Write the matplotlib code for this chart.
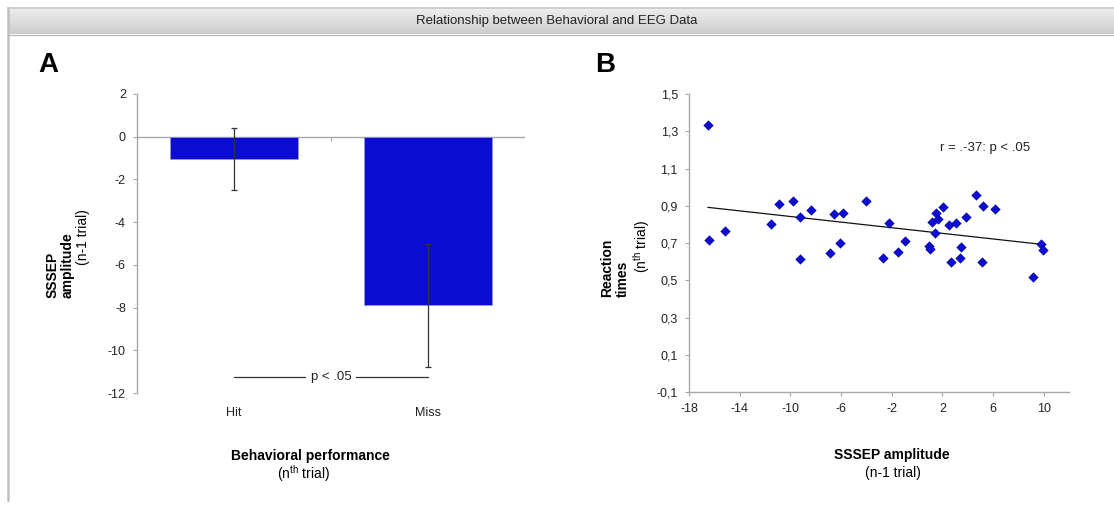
import numpy as np
import matplotlib
matplotlib.use('Agg')
import matplotlib.pyplot as plt
from matplotlib.lines import Line2D

plt.rcParams['font.family'] = ['Liberation Sans', 'DejaVu Sans']
plt.rcParams['mathtext.fontset'] = 'custom'
plt.rcParams['mathtext.rm'] = 'Liberation Sans'
plt.rcParams['axes.unicode_minus'] = False

# panel A data
conditions = ['Hit', 'Miss']
amp_means = [-1.05, -7.9]
amp_err = [1.46, 2.9]
p_level = -11.25

# panel B data
sssep_amp = [-16.50, -16.42, -15.13, -11.53, -10.88, -9.80, -9.22, -9.27, -8.33,
             -6.85, -6.54, -6.09, -5.83, -4.01, -2.65, -2.23, -1.49, -0.91,
             0.93, 1.01, 1.16, 1.45, 1.53, 1.69, 2.08, 2.50, 2.72, 3.11, 3.42,
             3.45, 3.90, 4.69, 5.19, 5.13, 6.16, 9.16, 9.76, 9.94]
rt = [1.334, 0.715, 0.767, 0.802, 0.910, 0.928, 0.842, 0.613, 0.877,
      0.648, 0.856, 0.702, 0.860, 0.924, 0.622, 0.808, 0.650, 0.711,
      0.686, 0.668, 0.811, 0.756, 0.863, 0.831, 0.892, 0.795, 0.597, 0.808, 0.618,
      0.681, 0.840, 0.958, 0.899, 0.600, 0.883, 0.520, 0.695, 0.663]
xticks_b = [-18, -14, -10, -6, -2, 2, 6, 10]
yticks_b = [-0.1, 0.1, 0.3, 0.5, 0.7, 0.9, 1.1, 1.3, 1.5]

W, H = 1114, 509
fig = plt.figure(figsize=(W / 100, H / 100), dpi=100)
fig.patch.set_facecolor('white')

def fx(px):
    return px / W

def fy(py):
    return 1 - py / H

# title bar with a light gray gradient
tb = fig.add_axes([fx(8), fy(34), 1 - fx(8), 26 / H])
shade = np.linspace(0.94, 0.80, 50)
grad = np.repeat(shade[:, None, None], 3, axis=2) * np.ones((1, 2, 1))
tb.imshow(grad, aspect='auto', extent=[0, 1, 0, 1])
tb.set_axis_off()
fig.text(0.5, fy(21), 'Relationship between Behavioral and EEG Data', ha='center', va='center',
         fontsize=9.5, color='#222222')
fig.add_artist(Line2D([fx(8), 1], [fy(7.5), fy(7.5)], color='#c8c8c8', lw=1.2))
fig.add_artist(Line2D([fx(8), 1], [fy(34.5), fy(34.5)], color='#b5b5b5', lw=0.8))
fig.add_artist(Line2D([fx(8), fx(8)], [fy(7.5), fy(500)], color='#c0c0c0', lw=1.8))

gray = '#a8a8a8'
bar_blue = '#0c0cd2'

def style_axis(ax):
    for s in ['top', 'right']:
        ax.spines[s].set_visible(False)
    for s in ['left', 'bottom']:
        ax.spines[s].set_color(gray)
        ax.spines[s].set_linewidth(1.0)
    ax.tick_params(colors=gray, labelcolor='#222222', labelsize=9, length=3, width=0.8)

# ---- panel A ----
axA = fig.add_axes([fx(137), fy(393), fx(525 - 137), 299 / H])
style_axis(axA)
x = np.arange(len(conditions))
axA.bar(x, amp_means, width=0.66, color=bar_blue, edgecolor='#9a9ad8', linewidth=0.5, zorder=2)
axA.errorbar(x, amp_means, yerr=amp_err, fmt='none', ecolor='#333333', elinewidth=0.9,
             capsize=2, capthick=0.9, zorder=3)
axA.axhline(0, color=gray, lw=1.0, zorder=1)
axA.vlines([0.5, 1.5], -0.18, 0, color=gray, lw=0.8)
axA.spines['bottom'].set_visible(False)
axA.set_xlim(-0.5, 1.5)
axA.set_ylim(-12, 2)
axA.set_yticks(np.arange(-12, 3, 2))
axA.set_xticks(x)
axA.set_xticklabels(conditions)
axA.tick_params(axis='x', length=0, pad=10)
axA.tick_params(axis='y', pad=5)
axA.plot([x[0], x[1]], [p_level, p_level], color='#333333', lw=0.9)
axA.text(0.5, p_level, 'p < .05', ha='center', va='center', fontsize=9.5, color='#222222',
         bbox=dict(facecolor='white', edgecolor='none', pad=3))

fig.text(fx(38), fy(72), 'A', fontsize=20, fontweight='bold', va='baseline')
fig.text(fx(53), fy(298), 'SSSEP', rotation=90, rotation_mode='anchor', ha='left', va='center',
         fontsize=10, fontweight='bold')
fig.text(fx(68), fy(298), 'amplitude', rotation=90, rotation_mode='anchor', ha='left', va='center',
         fontsize=10, fontweight='bold')
fig.text(fx(83), fy(265), '(n-1 trial)', rotation=90, rotation_mode='anchor', ha='left', va='center',
         fontsize=10)
fig.text(fx(310), fy(456), 'Behavioral performance', ha='center', va='center', fontsize=10,
         fontweight='bold')
fig.text(fx(303), fy(474), r'(n$^{\mathrm{th}}$ trial)', ha='center', va='center', fontsize=10)

# ---- panel B ----
axB = fig.add_axes([fx(689), fy(392), fx(1069 - 689), 298 / H])
style_axis(axB)
axB.scatter(sssep_amp, rt, marker='D', s=24, color=bar_blue, edgecolors='#00007a',
            linewidths=0.3, zorder=3)
slope, icpt = np.polyfit(sssep_amp, rt, 1)
xs = np.array([min(sssep_amp), max(sssep_amp)])
axB.plot(xs, slope * xs + icpt, color='#111111', lw=0.9, zorder=2)
axB.set_xlim(-18, 12)
axB.set_ylim(-0.1, 1.5)
axB.set_xticks(xticks_b)
axB.set_yticks(yticks_b)
axB.set_yticklabels([f'{v:.1f}'.replace('.', ',') for v in yticks_b])
axB.tick_params(axis='both', pad=5)
axB.text(5.4, 1.21, 'r = .-37: p < .05', ha='center', va='center', fontsize=9.5, color='#222222')

fig.text(fx(595), fy(72), 'B', fontsize=20, fontweight='bold', va='baseline')
fig.text(fx(607), fy(297), 'Reaction', rotation=90, rotation_mode='anchor', ha='left', va='center',
         fontsize=10, fontweight='bold')
fig.text(fx(623), fy(297), 'times', rotation=90, rotation_mode='anchor', ha='left', va='center',
         fontsize=10, fontweight='bold')
fig.text(fx(642), fy(273), r'(n$^{\mathrm{th}}$ trial)', rotation=90, rotation_mode='anchor',
         ha='left', va='center', fontsize=10)
fig.text(fx(892), fy(455), 'SSSEP amplitude', ha='center', va='center', fontsize=10,
         fontweight='bold')
fig.text(fx(893), fy(473), '(n-1 trial)', ha='center', va='center', fontsize=10)

fig.savefig('out.png', dpi=100, facecolor='white')
